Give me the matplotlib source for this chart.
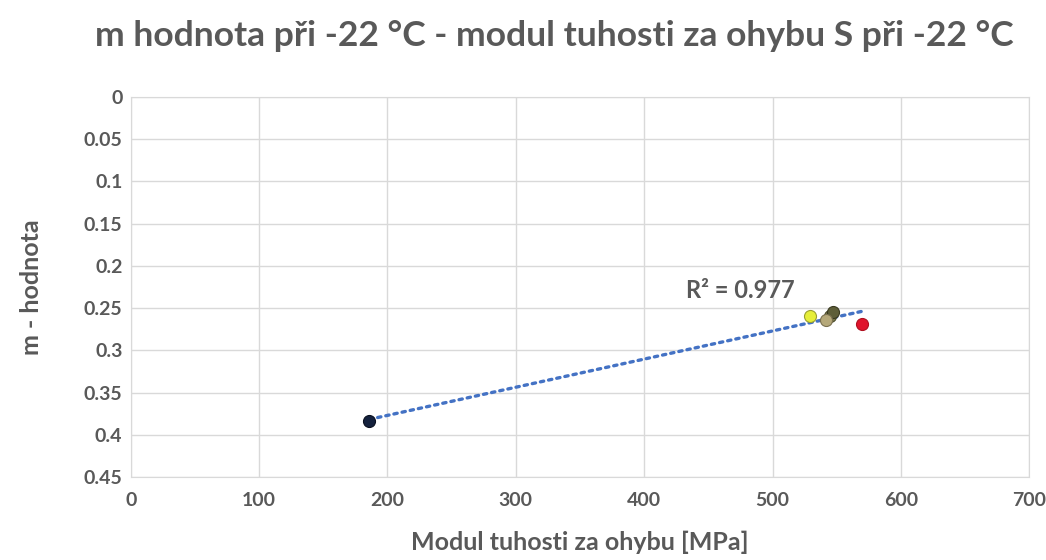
import numpy as np
import matplotlib
matplotlib.use('Agg')
import matplotlib.pyplot as plt

plt.rcParams['font.family'] = ['Lato', 'DejaVu Sans']

# modul tuhosti S [MPa] a m-hodnota, jednotlivé vzorky
modul = [186, 529, 545, 547, 542, 570]
m_hodnota = [0.383, 0.259, 0.259, 0.255, 0.264, 0.269]
barvy = ['#14213d', '#e6ee3a', '#7a7a4a', '#5e5e38', '#b5a879', '#e0142c']
okraje = ['#0a1020', '#9aa030', '#4a4a2a', '#3a3a20', '#7a7050', '#b01020']

x_ticks = [0, 100, 200, 300, 400, 500, 600, 700]
y_ticks = [0, 0.05, 0.1, 0.15, 0.2, 0.25, 0.3, 0.35, 0.4, 0.45]
y_labels = ['0', '0.05', '0.1', '0.15', '0.2', '0.25', '0.3', '0.35', '0.4', '0.45']

seda = '#595959'

fig = plt.figure(figsize=(10.46, 5.6), dpi=100)
ax = fig.add_axes([0.125, 0.148, 0.859, 0.679])

# lineární trend
k, q = np.polyfit(modul, m_hodnota, 1)
xt = np.array([min(modul), max(modul)])
ax.plot(xt, k * xt + q, color='#4472c4', linestyle=(0, (1, 1.5)), linewidth=2.4,
        dash_capstyle='round', zorder=2)

for x, y, c, e in zip(modul, m_hodnota, barvy, okraje):
    ax.scatter(x, y, s=75, color=c, edgecolors=e, linewidths=0.8, zorder=3)

ax.text(475, 0.229, 'R² = 0.977', ha='center', va='center', fontsize=17,
        fontweight='bold', color=seda)

ax.set_xlim(0, 700)
ax.set_ylim(0.45, 0)
ax.set_xticks(x_ticks)
ax.set_yticks(y_ticks)
ax.set_yticklabels(y_labels)
ax.grid(True, color='#d9d9d9', linewidth=1)
ax.set_axisbelow(True)
for s in ax.spines.values():
    s.set_color('#d9d9d9')
ax.tick_params(length=0, labelsize=14, labelcolor=seda)
ax.tick_params(axis='x', pad=11)
ax.tick_params(axis='y', pad=6)
for lab in ax.get_xticklabels() + ax.get_yticklabels():
    lab.set_fontweight('bold')

ax.set_xlabel('Modul tuhosti za ohybu [MPa]', fontsize=18, fontweight='bold',
              color=seda, labelpad=15)
ax.set_ylabel('m - hodnota', fontsize=18, fontweight='bold', color=seda, labelpad=29)
fig.suptitle('m hodnota při -22 °C - modul tuhosti za ohybu S při -22 °C',
             x=0.53, y=0.965, fontsize=25.5, fontweight='bold', color=seda)

fig.savefig('out.png', dpi=100)
